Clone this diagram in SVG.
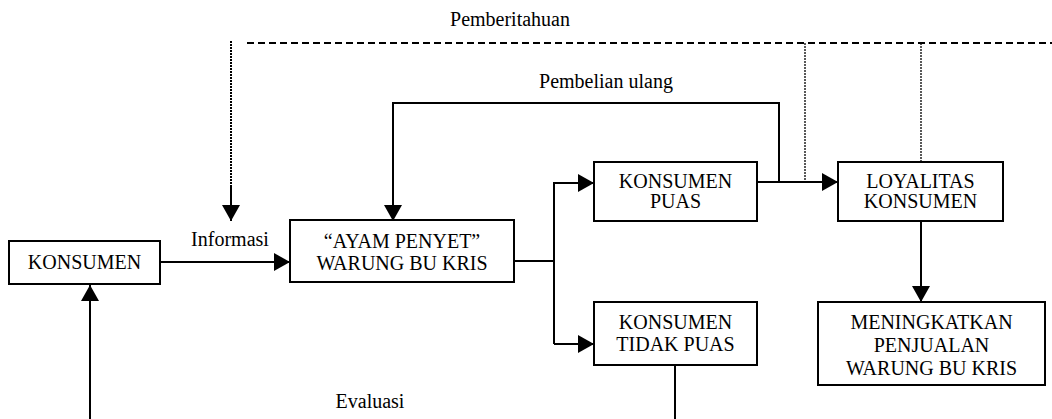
<svg xmlns="http://www.w3.org/2000/svg" width="1052" height="419" viewBox="0 0 1052 419">
<defs>
<style>
.box{fill:#fff;stroke:#000;stroke-width:2}
.t{font-family:"Liberation Serif","Times New Roman",serif;font-size:20px;fill:#000;text-anchor:middle}
.ln{fill:none;stroke:#000;stroke-width:2}
.dash{fill:none;stroke:#000;stroke-width:2;stroke-dasharray:7 4}
.dot{fill:none;stroke:#000;stroke-width:1.3;stroke-dasharray:2 1}
</style>
<marker id="ah" markerUnits="userSpaceOnUse" markerWidth="18" markerHeight="18" viewBox="0 0 16 18" refX="16" refY="9" orient="auto">
<path d="M0,0 L16,9 L0,18 Z" fill="#000"/>
</marker>
</defs>
<g id="connectors">
<line class="dash" x1="247" y1="43" x2="1052" y2="43"/>
<text class="t" x="510" y="26">Pemberitahuan</text>
<line class="dot" x1="231" y1="41" x2="231" y2="190" style="stroke-width:2"/>
<line class="ln" x1="231" y1="185" x2="231" y2="221" marker-end="url(#ah)"/>
<line class="dot" x1="805" y1="43" x2="805" y2="182"/>
<line class="dot" x1="921" y1="43" x2="921" y2="162"/>
<polyline class="ln" points="779,182 779,103 393,103 393,221" marker-end="url(#ah)"/>
<text class="t" x="606" y="88">Pembelian ulang</text>
<line class="ln" x1="160" y1="262" x2="290" y2="262" marker-end="url(#ah)"/>
<text class="t" x="230" y="246">Informasi</text>
<polyline class="ln" points="514,261 554,261"/>
<polyline class="ln" points="554,344 554,183 594,183" marker-end="url(#ah)"/>
<line class="ln" x1="554" y1="344" x2="594" y2="344" marker-end="url(#ah)"/>
<line class="ln" x1="757" y1="182" x2="838" y2="182" marker-end="url(#ah)"/>
<line class="ln" x1="921" y1="221" x2="921" y2="302" marker-end="url(#ah)"/>
<line class="ln" x1="675" y1="365" x2="675" y2="419"/>
<line class="ln" x1="90" y1="419" x2="90" y2="285" marker-end="url(#ah)"/>
<text class="t" x="370" y="408">Evaluasi</text>
</g>
<g id="konsumen">
<rect class="box" x="9" y="241" width="151" height="43"/>
<text class="t" x="84.5" y="269">KONSUMEN</text>
</g>
<g id="ayam-penyet">
<rect class="box" x="290" y="220" width="224" height="62"/>
<text class="t" x="402" y="248">“AYAM PENYET”</text>
<text class="t" x="402" y="270">WARUNG BU KRIS</text>
</g>
<g id="konsumen-puas">
<rect class="box" x="594" y="162" width="163" height="59"/>
<text class="t" x="675.5" y="188">KONSUMEN</text>
<text class="t" x="675.5" y="208">PUAS</text>
</g>
<g id="loyalitas">
<rect class="box" x="838" y="162" width="165" height="59"/>
<text class="t" x="920.5" y="188">LOYALITAS</text>
<text class="t" x="920.5" y="208">KONSUMEN</text>
</g>
<g id="konsumen-tidak-puas">
<rect class="box" x="594" y="302" width="163" height="63"/>
<text class="t" x="675.5" y="329">KONSUMEN</text>
<text class="t" x="675.5" y="351">TIDAK PUAS</text>
</g>
<g id="meningkatkan">
<rect class="box" x="818" y="302" width="227" height="83"/>
<text class="t" x="931.5" y="329">MENINGKATKAN</text>
<text class="t" x="931.5" y="352">PENJUALAN</text>
<text class="t" x="931.5" y="375">WARUNG BU KRIS</text>
</g>
</svg>
